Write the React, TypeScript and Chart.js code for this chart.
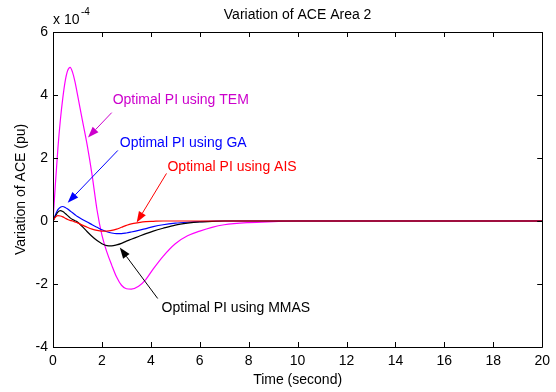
import React, { useEffect, useRef } from "react";
import { Chart, registerables } from "chart.js";

Chart.register(...registerables);

// Time axis (seconds)
const timeSec = [
  0, 0.1, 0.2, 0.3, 0.4, 0.5, 0.6, 0.7, 0.8, 0.9,
  1.0, 1.2, 1.4, 1.6, 1.8,
  2.0, 2.2, 2.4, 2.6, 2.8, 3.0, 3.2,
  3.5, 3.8, 4.1, 4.5,
  5.0, 5.5, 6.0, 6.5, 7.0,
  8, 9, 10,
  12, 14, 16, 18, 20,
];

// Variation of ACE (x 1e-4 pu)
const aceTEM = [
  0, 1.2, 2.3, 3.2, 3.9, 4.45, 4.78, 4.88, 4.72, 4.42,
  4.02, 3.2, 2.4, 1.45, 0.35,
  -0.45, -0.98, -1.4, -1.78, -2.04, -2.15, -2.16,
  -2.07, -1.85, -1.52, -1.12,
  -0.72, -0.47, -0.32, -0.2, -0.12,
  -0.05, -0.02, 0,
  0, 0, 0, 0, 0,
];
const aceGA = [
  0, 0.2, 0.36, 0.44, 0.46, 0.43, 0.38, 0.32, 0.26, 0.2,
  0.14, 0.05, -0.03, -0.12, -0.2,
  -0.28, -0.34, -0.38, -0.4, -0.4, -0.38, -0.35,
  -0.3, -0.24, -0.18, -0.12,
  -0.07, -0.04, -0.02, -0.01, 0,
  0, 0, 0,
  0, 0, 0, 0, 0,
];
const aceAIS = [
  0, 0.12, 0.17, 0.16, 0.13, 0.09, 0.05, 0.02, 0, -0.03,
  -0.06, -0.13, -0.2, -0.26, -0.3,
  -0.32, -0.32, -0.3, -0.26, -0.2, -0.14, -0.09,
  -0.05, -0.02, -0.01, 0,
  0, 0, 0, 0, 0,
  0, 0, 0,
  0, 0, 0, 0, 0,
];
const aceMMAS = [
  0, 0.15, 0.28, 0.33, 0.3, 0.24, 0.17, 0.1, 0.05, 0.01,
  -0.03, -0.18, -0.34, -0.49, -0.62,
  -0.72, -0.78, -0.79, -0.76, -0.71, -0.64, -0.58,
  -0.49, -0.4, -0.32, -0.23,
  -0.13, -0.07, -0.03, -0.01, 0,
  0, 0, 0,
  0, 0, 0, 0, 0,
];

const xTicks = [0, 2, 4, 6, 8, 10, 12, 14, 16, 18, 20];
const yTicks = [-4, -2, 0, 2, 4, 6];

const chartTitle = "Variation of ACE Area 2";
const xTitle = "Time (second)";
const yTitle = "Variation of ACE (pu)";

// Annotation labels (text anchor, arrow tail, arrow head) in data units
const labelTexts = ["Optimal PI using TEM", "Optimal PI using GA", "Optimal PI using AIS", "Optimal PI using MMAS"];
const labelColors = ["#CC00CC", "#0000FF", "#FF0000", "#000000"];
const labelAt = [[2.44, 3.83], [2.73, 2.46], [4.68, 1.7], [4.44, -2.78]];
const arrowFrom = [[2.4, 3.44], [2.65, 2.24], [4.64, 1.51], [4.28, -2.46]];
const arrowTo = [[1.43, 2.65], [0.6, 0.58], [3.42, -0.05], [2.73, -0.84]];

const FONT = "'Liberation Sans', Arial, Helvetica, sans-serif";

const pts = (ys: number[]) => timeSec.map((t, i) => ({ x: t, y: ys[i] }));

const decorPlugin = {
  id: "matlabDecor",
  afterDraw(chart: any) {
    const { ctx, chartArea: a, scales } = chart;
    const xs = scales.x;
    const ys = scales.y;
    ctx.save();
    // box
    ctx.strokeStyle = "#000";
    ctx.lineWidth = 1;
    ctx.beginPath();
    ctx.rect(Math.round(a.left) + 0.5, Math.round(a.top) + 0.5, Math.round(a.right - a.left), Math.round(a.bottom - a.top));
    ctx.stroke();
    // inside ticks
    const tl = 5;
    ctx.beginPath();
    xTicks.forEach((v) => {
      const px = Math.round(xs.getPixelForValue(v)) + 0.5;
      ctx.moveTo(px, a.bottom);
      ctx.lineTo(px, a.bottom - tl);
      ctx.moveTo(px, a.top);
      ctx.lineTo(px, a.top + tl);
    });
    yTicks.forEach((v) => {
      const py = Math.round(ys.getPixelForValue(v)) + 0.5;
      ctx.moveTo(a.left, py);
      ctx.lineTo(a.left + tl, py);
      ctx.moveTo(a.right, py);
      ctx.lineTo(a.right - tl, py);
    });
    ctx.stroke();

    // annotations
    ctx.font = `14px ${FONT}`;
    ctx.textBaseline = "middle";
    ctx.textAlign = "left";
    labelTexts.forEach((txt, i) => {
      const c = labelColors[i];
      ctx.fillStyle = c;
      ctx.strokeStyle = c;
      ctx.fillText(txt, xs.getPixelForValue(labelAt[i][0]), ys.getPixelForValue(labelAt[i][1]));
      const x0 = xs.getPixelForValue(arrowFrom[i][0]);
      const y0 = ys.getPixelForValue(arrowFrom[i][1]);
      const x1 = xs.getPixelForValue(arrowTo[i][0]);
      const y1 = ys.getPixelForValue(arrowTo[i][1]);
      const ang = Math.atan2(y1 - y0, x1 - x0);
      const hl = 11;
      const hw = 4;
      const bx = x1 - hl * Math.cos(ang);
      const by = y1 - hl * Math.sin(ang);
      ctx.beginPath();
      ctx.moveTo(x0, y0);
      ctx.lineTo(bx, by);
      ctx.stroke();
      ctx.beginPath();
      ctx.moveTo(x1, y1);
      ctx.lineTo(bx + hw * Math.sin(ang), by - hw * Math.cos(ang));
      ctx.lineTo(bx - hw * Math.sin(ang), by + hw * Math.cos(ang));
      ctx.closePath();
      ctx.fill();
    });

    // titles
    ctx.fillStyle = "#000";
    ctx.textAlign = "center";
    ctx.font = `14px ${FONT}`;
    const cx = (a.left + a.right) / 2;
    ctx.fillText(chartTitle, cx, 15);
    ctx.fillText(xTitle, cx, 380);
    ctx.save();
    ctx.translate(21, (a.top + a.bottom) / 2);
    ctx.rotate(-Math.PI / 2);
    ctx.fillText(yTitle, 0, 0);
    ctx.restore();
    // exponent
    ctx.textAlign = "left";
    ctx.fillText("x 10", a.left, 20);
    ctx.font = `10px ${FONT}`;
    ctx.fillText("-4", a.left + 28, 12);
    ctx.restore();
  },
};

export default function App() {
  const ref = useRef<HTMLCanvasElement | null>(null);
  useEffect(() => {
    document.body.style.margin = "0";
    const canvas = ref.current;
    if (!canvas) return;
    const ds = (label: string, data: number[], color: string) => ({
      label,
      data: pts(data),
      borderColor: color,
      backgroundColor: color,
      borderWidth: 1.2,
      pointRadius: 0,
      fill: false,
      cubicInterpolationMode: "monotone" as const,
    });
    const chart = new Chart(canvas, {
      type: "line",
      data: {
        datasets: [
          ds("AIS", aceAIS, "#FF0000"),
          ds("MMAS", aceMMAS, "#000000"),
          ds("GA", aceGA, "#0000FF"),
          ds("TEM", aceTEM, "#FF00FF"),
        ],
      },
      options: {
        responsive: false,
        animation: false,
        devicePixelRatio: 1,
        layout: { padding: { left: 0, right: 12, top: 32, bottom: 0 } },
        plugins: { legend: { display: false }, tooltip: { enabled: false }, title: { display: false } },
        scales: {
          x: {
            type: "linear",
            min: 0,
            max: 20,
            afterBuildTicks: (s: any) => { s.ticks = xTicks.map((v) => ({ value: v })); },
            afterFit: (s: any) => { s.height = 45; },
            grid: { display: false, drawTicks: false },
            border: { display: false },
            ticks: { color: "#000", font: { family: FONT, size: 14 }, padding: 6, maxRotation: 0, autoSkip: false },
          },
          y: {
            type: "linear",
            min: -4,
            max: 6,
            afterBuildTicks: (s: any) => { s.ticks = yTicks.map((v) => ({ value: v })); },
            afterFit: (s: any) => { s.width = 53; },
            grid: { display: false, drawTicks: false },
            border: { display: false },
            ticks: { color: "#000", font: { family: FONT, size: 14 }, padding: 5, autoSkip: false },
          },
        },
      },
      plugins: [decorPlugin],
    });
    return () => chart.destroy();
  }, []);
  return (
    <div style={{ width: 556, height: 392, background: "#fff" }}>
      <canvas ref={ref} width={556} height={392} style={{ display: "block", width: 556, height: 392 }} />
    </div>
  );
}
